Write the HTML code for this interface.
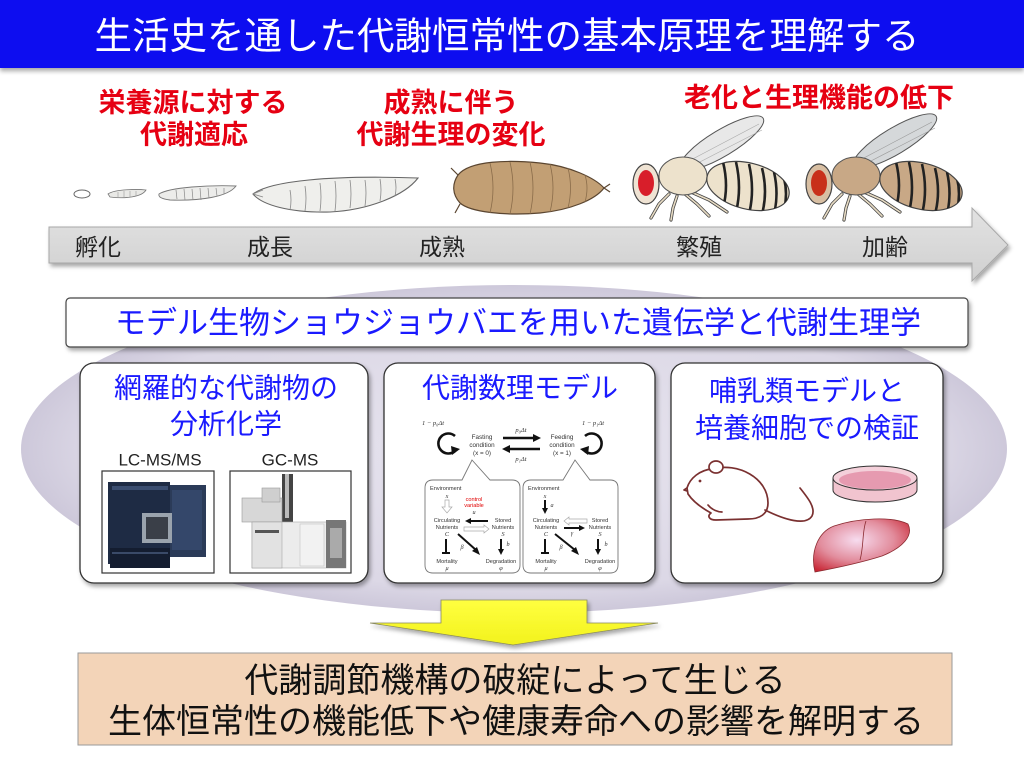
<!DOCTYPE html>
<html>
<head>
<meta charset="utf-8">
<style>
html,body{margin:0;padding:0;background:#fff;}
svg{display:block;}
.jp{font-family:"Liberation Sans","Noto Sans CJK JP",sans-serif;}
.sm{font-family:"Liberation Sans","Noto Sans CJK JP",sans-serif;fill:#333;}
.it{font-family:"Liberation Serif","DejaVu Serif",serif;font-style:italic;fill:#333;}
</style>
</head>
<body>
<svg width="1024" height="768" viewBox="0 0 1024 768" xmlns="http://www.w3.org/2000/svg">
<defs>
  <filter id="sh" x="-10%" y="-10%" width="120%" height="130%">
    <feDropShadow dx="2" dy="3" stdDeviation="2" flood-color="#000" flood-opacity="0.35"/>
  </filter>
  <filter id="sh2" x="-5%" y="-20%" width="110%" height="160%">
    <feDropShadow dx="0" dy="3" stdDeviation="2.5" flood-color="#000" flood-opacity="0.35"/>
  </filter>
  <radialGradient id="ell" cx="50%" cy="50%" r="50%">
    <stop offset="0" stop-color="#e6e3ee"/>
    <stop offset="0.85" stop-color="#dcd8e6"/>
    <stop offset="1" stop-color="#cdc8da"/>
  </radialGradient>
  <linearGradient id="band" x1="0" y1="0" x2="0" y2="1">
    <stop offset="0" stop-color="#e2e2e2"/>
    <stop offset="1" stop-color="#d0d0d0"/>
  </linearGradient>
  <linearGradient id="yel" x1="0" y1="0" x2="0" y2="1">
    <stop offset="0" stop-color="#ffff40"/>
    <stop offset="1" stop-color="#f2f21c"/>
  </linearGradient>
  <radialGradient id="liver" cx="45%" cy="40%" r="70%">
    <stop offset="0" stop-color="#f7dcef"/>
    <stop offset="0.55" stop-color="#e28d9d"/>
    <stop offset="1" stop-color="#c82634"/>
  </radialGradient>
  <clipPath id="abd1"><ellipse cx="101" cy="4" rx="42" ry="23" transform="rotate(14 101 4)"/></clipPath>
  <g id="fly">
    <g stroke="#444" stroke-width="3.2" fill="none" stroke-linecap="round" stroke-linejoin="round">
      <polyline points="22,12 12,22 4,36"/>
      <polyline points="30,14 26,26 24,38"/>
      <polyline points="38,12 50,22 62,34"/>
      <polyline points="44,10 62,18 80,30"/>
    </g>
    <g stroke="#e8dcc4" stroke-width="1.6" fill="none" stroke-linecap="round" stroke-linejoin="round">
      <polyline points="22,12 12,22 4,36"/>
      <polyline points="30,14 26,26 24,38"/>
      <polyline points="38,12 50,22 62,34"/>
      <polyline points="44,10 62,18 80,30"/>
    </g>
  </g>
</defs>

<!-- header -->
<rect x="0" y="0" width="1024" height="68" fill="#0a0af0" filter="url(#sh2)"/>
<text x="507" y="36" class="jp" font-size="37.5" fill="#fff" text-anchor="middle" dominant-baseline="central">生活史を通した代謝恒常性の基本原理を理解する</text>

<!-- red labels -->
<g class="jp" font-size="27" font-weight="bold" fill="#e60012" text-anchor="middle" dominant-baseline="central">
  <text x="193" y="103">栄養源に対する</text>
  <text x="194" y="135">代謝適応</text>
  <text x="451" y="103">成熟に伴う</text>
  <text x="451" y="135">代謝生理の変化</text>
  <text x="819" y="98">老化と生理機能の低下</text>
</g>

<!-- larvae -->
<ellipse cx="82" cy="194" rx="8" ry="4" fill="#fff" stroke="#666" stroke-width="1"/>
<path d="M108,194 C115,189 138,189 146,190 C142,197 125,199 110,197 Z" fill="#e9e9e6" stroke="#777" stroke-width="0.8"/>
<g stroke="#999" stroke-width="0.6"><line x1="118" y1="192" x2="118" y2="197"/><line x1="124" y1="191" x2="124" y2="198"/><line x1="130" y1="191" x2="130" y2="197"/><line x1="136" y1="191" x2="136" y2="196"/></g>
<path d="M159,194 C170,187 210,185 236,186 C228,197 200,201 170,200 C162,199 158,197 159,194 Z" fill="#ececea" stroke="#777" stroke-width="0.9"/>
<g stroke="#888" stroke-width="0.7"><line x1="176" y1="190" x2="177" y2="199"/><line x1="184" y1="189" x2="185" y2="200"/><line x1="192" y1="189" x2="193" y2="200"/><line x1="200" y1="188" x2="201" y2="200"/><line x1="208" y1="188" x2="209" y2="198"/><line x1="216" y1="188" x2="217" y2="196"/><line x1="224" y1="188" x2="224" y2="194"/></g>
<path d="M253,194 C270,181 330,175 418,178 C405,195 370,210 330,212 C290,213 262,205 253,194 Z" fill="#efefec" stroke="#666" stroke-width="1.1"/>
<g stroke="#888" stroke-width="0.8" fill="none"><path d="M290,190 q2,10 0,20"/><path d="M305,186 q2,12 0,25"/><path d="M320,183 q2,14 0,28"/><path d="M335,181 q2,15 0,30"/><path d="M350,180 q2,14 0,28"/><path d="M365,180 q2,13 0,26"/><path d="M380,179 q2,11 0,22"/><path d="M395,179 q2,9 0,17"/><path d="M253,194 l10,-4 M253,194 l10,3"/></g>

<!-- pupa -->
<path d="M458,175 C470,160 510,160 540,163 C570,166 595,178 604,188 C595,200 570,210 540,213 C505,216 470,212 460,203 C452,194 452,184 458,175 Z" fill="#c29f74" stroke="#5a4530" stroke-width="1.2"/>
<g stroke="#8a6c4a" stroke-width="0.8" fill="none"><path d="M490,163 q6,25 0,50"/><path d="M510,162 q6,26 0,52"/><path d="M530,162 q6,26 0,52"/><path d="M550,164 q6,24 0,48"/><path d="M568,168 q5,20 0,40"/><path d="M585,175 q4,13 0,27"/></g>
<g stroke="#5a4530" stroke-width="1.2"><line x1="458" y1="175" x2="451" y2="168"/><line x1="460" y1="204" x2="455" y2="213"/><line x1="604" y1="188" x2="610" y2="184"/><line x1="604" y1="188" x2="610" y2="192"/></g>

<!-- fly 1 -->
<g transform="translate(647,182)">
  <ellipse cx="75" cy="-39" rx="48" ry="13" transform="rotate(-31 75 -39)" fill="#e8e8e8" stroke="#555" stroke-width="1"/>
  <path d="M40,-20 L112,-58 M45,-16 L115,-52" stroke="#aaa" stroke-width="0.6"/>
  <use href="#fly"/>
  <ellipse cx="36" cy="-6" rx="24" ry="19" fill="#ede2cc" stroke="#555" stroke-width="1"/>
  <ellipse cx="101" cy="4" rx="42" ry="23" transform="rotate(14 101 4)" fill="#ede2cc" stroke="#444" stroke-width="1.2"/>
  <g clip-path="url(#abd1)" stroke="#222" stroke-width="2.6" fill="none">
    <path d="M76,-20 q6,24 0,46"/><path d="M89,-20 q6,26 0,50"/><path d="M102,-18 q6,26 0,50"/><path d="M115,-14 q6,24 0,46"/><path d="M127,-10 q5,22 0,42"/><path d="M137,-4 q4,16 0,32"/>
  </g>
  <ellipse cx="-1" cy="2" rx="13" ry="20" fill="#efe3d3" stroke="#444" stroke-width="1.2"/>
  <ellipse cx="-1" cy="1" rx="8" ry="13" fill="#d81e2a"/>
</g>
<!-- fly 2 -->
<g transform="translate(820,182)">
  <ellipse cx="75" cy="-41" rx="48" ry="13" transform="rotate(-31 75 -41)" fill="#d5d8da" stroke="#555" stroke-width="1"/>
  <path d="M40,-22 L112,-60 M45,-18 L115,-54" stroke="#999" stroke-width="0.6"/>
  <use href="#fly"/>
  <ellipse cx="36" cy="-6" rx="24" ry="19" fill="#c8a886" stroke="#555" stroke-width="1"/>
  <ellipse cx="101" cy="4" rx="42" ry="23" transform="rotate(14 101 4)" fill="#c8a886" stroke="#444" stroke-width="1.2"/>
  <g clip-path="url(#abd1)" stroke="#222" stroke-width="2.6" fill="none">
    <path d="M76,-20 q6,24 0,46"/><path d="M89,-20 q6,26 0,50"/><path d="M102,-18 q6,26 0,50"/><path d="M115,-14 q6,24 0,46"/><path d="M127,-10 q5,22 0,42"/><path d="M137,-4 q4,16 0,32"/>
  </g>
  <ellipse cx="-1" cy="2" rx="13" ry="20" fill="#d8bfa3" stroke="#444" stroke-width="1.2"/>
  <ellipse cx="-1" cy="1" rx="8" ry="13" fill="#c8301a"/>
</g>

<!-- timeline arrow -->
<polygon points="49,227 972,227 972,208 1008,245 972,281 972,263 49,263" fill="url(#band)" stroke="#a8a8a8" stroke-width="1" filter="url(#sh)"/>
<g class="jp" font-size="23" fill="#222" text-anchor="middle" dominant-baseline="central">
  <text x="98" y="247">孵化</text>
  <text x="270" y="247">成長</text>
  <text x="442" y="247">成熟</text>
  <text x="699" y="247">繁殖</text>
  <text x="885" y="247">加齢</text>
</g>

<!-- lavender ellipse -->
<ellipse cx="514" cy="449" rx="493" ry="164" fill="url(#ell)"/>

<!-- banner -->
<rect x="66" y="298" width="902" height="49" rx="4" fill="#fff" stroke="#444" stroke-width="1.2" filter="url(#sh)"/>
<text x="518" y="323" class="jp" font-size="31" fill="#1a1aff" text-anchor="middle" dominant-baseline="central">モデル生物ショウジョウバエを用いた遺伝学と代謝生理学</text>

<!-- panels -->
<rect x="80" y="363" width="288" height="220" rx="14" fill="#fff" stroke="#333" stroke-width="1.3" filter="url(#sh)"/>
<rect x="384" y="363" width="271" height="220" rx="14" fill="#fff" stroke="#333" stroke-width="1.3" filter="url(#sh)"/>
<rect x="671" y="363" width="272" height="220" rx="14" fill="#fff" stroke="#333" stroke-width="1.3" filter="url(#sh)"/>

<g class="jp" font-size="28" fill="#1a1aff" text-anchor="middle" dominant-baseline="central">
  <text x="226" y="388">網羅的な代謝物の</text>
  <text x="226" y="424">分析化学</text>
  <text x="520" y="388">代謝数理モデル</text>
  <text x="807" y="391">哺乳類モデルと</text>
  <text x="807" y="428">培養細胞での検証</text>
</g>

<!-- panel 1 content -->
<g font-family="Liberation Sans, sans-serif" font-size="17" fill="#222" text-anchor="middle" dominant-baseline="central">
  <text x="160" y="460">LC-MS/MS</text>
  <text x="290" y="460">GC-MS</text>
</g>
<rect x="102" y="471" width="112" height="102" fill="#fff" stroke="#333" stroke-width="1.2"/>
<rect x="230" y="471" width="121" height="102" fill="#fff" stroke="#333" stroke-width="1.2"/>
<!-- LC-MS -->
<rect x="108" y="482" width="62" height="82" fill="#1e2b44"/>
<rect x="112" y="486" width="56" height="4" fill="#3a4d70"/>
<rect x="170" y="485" width="36" height="72" fill="#2b3b58"/>
<rect x="172" y="490" width="30" height="60" fill="#34476a"/>
<rect x="142" y="513" width="30" height="30" fill="#9aa3ad"/>
<rect x="146" y="517" width="22" height="22" fill="#3a3f48"/>
<rect x="110" y="548" width="60" height="20" fill="#141d30"/>
<rect x="112" y="552" width="56" height="2" fill="#3a4a68"/>
<!-- GC-MS -->
<rect x="282" y="474" width="11" height="48" fill="#444"/>
<rect x="285" y="474" width="4" height="44" fill="#bbb"/>
<rect x="242" y="498" width="40" height="24" fill="#d7d7d7" stroke="#999" stroke-width="0.6"/>
<rect x="262" y="488" width="18" height="14" fill="#cfcfcf" stroke="#999" stroke-width="0.6"/>
<rect x="252" y="522" width="94" height="46" fill="#ececec" stroke="#aaa" stroke-width="0.6"/>
<rect x="252" y="522" width="30" height="46" fill="#e2e2e2" stroke="#999" stroke-width="0.5"/>
<rect x="255" y="530" width="24" height="3" fill="#555"/>
<rect x="326" y="520" width="20" height="48" fill="#777"/>
<rect x="330" y="528" width="12" height="30" fill="#aaa"/>
<rect x="300" y="524" width="24" height="42" fill="#f2f2f2" stroke="#bbb" stroke-width="0.5"/>

<!-- panel 2 model -->
<g font-size="6.5">
  <text x="433" y="425" class="it" text-anchor="middle">1 − p₀Δt</text>
  <text x="593" y="425" class="it" text-anchor="middle">1 − p₁Δt</text>
  <text x="521" y="432" class="it" text-anchor="middle">p₀Δt</text>
  <text x="521" y="461" class="it" text-anchor="middle">p₁Δt</text>
</g>
<g font-size="6.3" class="sm" text-anchor="middle">
  <text x="482" y="439">Fasting</text>
  <text x="482" y="447">condition</text>
  <text x="482" y="455">(x = 0)</text>
  <text x="562" y="439">Feeding</text>
  <text x="562" y="447">condition</text>
  <text x="562" y="455">(x = 1)</text>
</g>
<path d="M455,436 A10,10 0 1,0 455,451" fill="none" stroke="#111" stroke-width="2.6"/>
<polygon points="451,446 460,449 452,455" fill="#111"/>
<path d="M585,436 A10,10 0 1,1 585,451" fill="none" stroke="#111" stroke-width="2.6"/>
<polygon points="589,446 580,449 588,455" fill="#111"/>
<line x1="503" y1="438" x2="534" y2="438" stroke="#111" stroke-width="2.6"/>
<polygon points="533,434 541,438 533,442" fill="#111"/>
<line x1="509" y1="449" x2="540" y2="449" stroke="#111" stroke-width="2.6"/>
<polygon points="510,445 502,449 510,453" fill="#111"/>

<!-- bubbles -->
<path d="M433,480 L462,480 L472,460 L490,480 L512,480 Q520,480 520,488 L520,565 Q520,573 512,573 L433,573 Q425,573 425,565 L425,488 Q425,480 433,480 Z" fill="#fff" stroke="#777" stroke-width="0.9"/>
<path d="M531,480 L563,480 L575,460 L590,480 L610,480 Q618,480 618,488 L618,565 Q618,573 610,573 L531,573 Q523,573 523,565 L523,488 Q523,480 531,480 Z" fill="#fff" stroke="#777" stroke-width="0.9"/>

<g class="sm" font-size="5.6">
  <text x="430" y="490">Environment</text>
  <text x="528" y="490">Environment</text>
  <text x="447" y="522" text-anchor="middle">Circulating</text>
  <text x="447" y="529" text-anchor="middle">Nutrients</text>
  <text x="503" y="522" text-anchor="middle">Stored</text>
  <text x="503" y="529" text-anchor="middle">Nutrients</text>
  <text x="546" y="522" text-anchor="middle">Circulating</text>
  <text x="546" y="529" text-anchor="middle">Nutrients</text>
  <text x="600" y="522" text-anchor="middle">Stored</text>
  <text x="600" y="529" text-anchor="middle">Nutrients</text>
  <text x="447" y="563" text-anchor="middle">Mortality</text>
  <text x="501" y="563" text-anchor="middle">Degradation</text>
  <text x="546" y="563" text-anchor="middle">Mortality</text>
  <text x="600" y="563" text-anchor="middle">Degradation</text>
</g>
<g class="sm" font-size="5.6" text-anchor="middle">
  <text x="474" y="501" style="fill:#e00000">control</text>
  <text x="474" y="507" style="fill:#e00000">variable</text>
</g>
<g class="it" font-size="6.2" text-anchor="middle">
  <text x="447" y="498">x</text>
  <text x="474" y="514">u</text>
  <text x="447" y="536">C</text>
  <text x="503" y="536">S</text>
  <text x="447" y="570">μ</text>
  <text x="501" y="570">φ</text>
  <text x="462" y="549">β</text>
  <text x="508" y="546">b</text>
  <text x="545" y="498">x</text>
  <text x="552" y="507">a</text>
  <text x="546" y="536">C</text>
  <text x="600" y="536">S</text>
  <text x="572" y="535">γ</text>
  <text x="546" y="570">μ</text>
  <text x="600" y="570">φ</text>
  <text x="561" y="549">β</text>
  <text x="606" y="546">b</text>
</g>
<!-- left bubble arrows -->
<path d="M445,500 h4 v7 h3 l-5,6 l-5,-6 h3 z" fill="#fff" stroke="#aaa" stroke-width="0.7"/>
<line x1="488" y1="521" x2="470" y2="521" stroke="#111" stroke-width="2"/>
<polygon points="471,518 465,521 471,524" fill="#111"/>
<path d="M464,527 h20 v-2 l5,4 l-5,4 v-2 h-20 z" fill="#fff" stroke="#aaa" stroke-width="0.7"/>
<line x1="446" y1="539" x2="446" y2="553" stroke="#111" stroke-width="2"/>
<line x1="442" y1="553" x2="450" y2="553" stroke="#111" stroke-width="2"/>
<line x1="458" y1="534" x2="476" y2="550" stroke="#111" stroke-width="2"/>
<polygon points="472,551 480,555 477,547" fill="#111"/>
<line x1="501" y1="539" x2="501" y2="550" stroke="#111" stroke-width="2"/>
<polygon points="498,549 501,555 504,549" fill="#111"/>
<!-- right bubble arrows -->
<line x1="545" y1="500" x2="545" y2="509" stroke="#111" stroke-width="2"/>
<polygon points="542,508 545,514 548,508" fill="#111"/>
<path d="M587,519 h-18 v-2 l-5,4 l5,4 v-2 h18 z" fill="#fff" stroke="#aaa" stroke-width="0.7"/>
<line x1="564" y1="528" x2="580" y2="528" stroke="#111" stroke-width="2"/>
<polygon points="579,525 585,528 579,531" fill="#111"/>
<line x1="545" y1="539" x2="545" y2="553" stroke="#111" stroke-width="2"/>
<line x1="541" y1="553" x2="549" y2="553" stroke="#111" stroke-width="2"/>
<line x1="555" y1="534" x2="575" y2="550" stroke="#111" stroke-width="2"/>
<polygon points="571,551 579,555 576,547" fill="#111"/>
<line x1="598" y1="539" x2="598" y2="550" stroke="#111" stroke-width="2"/>
<polygon points="595,549 598,555 601,549" fill="#111"/>

<!-- panel 3 content: mouse -->
<g fill="none" stroke="#7a3030" stroke-width="1.7" stroke-linecap="round" stroke-linejoin="round">
  <path d="M687,488 C690,478 700,470 712,469 C738,462 768,478 768,503 C768,514 760,519 748,519 L716,520 C709,520 707,516 711,513 C700,507 692,500 688,494 Z" fill="#fff"/>
  <ellipse cx="716" cy="467" rx="7" ry="6" fill="#fff"/>
  <path d="M765,510 C785,520 806,526 812,516 C816,508 808,498 800,488"/>
  <path d="M708,505 C712,510 718,512 722,512"/>
  <path d="M687,488 l-3,2 l3,1"/>
</g>
<circle cx="700" cy="481" r="1.4" fill="#7a3030"/>
<!-- petri dish -->
<path d="M833,478 L833,490 A42,12 0 0,0 917,490 L917,478" fill="#f1c4cf" stroke="#333" stroke-width="1"/>
<ellipse cx="875" cy="478" rx="42" ry="12" fill="#f4d0da" stroke="#333" stroke-width="1"/>
<ellipse cx="875" cy="480" rx="36" ry="9" fill="#e69ab0"/>
<!-- liver -->
<path d="M815,572 C810,552 818,532 834,526 C858,518 892,516 908,524 C914,536 902,548 882,556 C860,563 836,568 815,572 Z" fill="url(#liver)" stroke="#8a2a30" stroke-width="0.8"/>
<path d="M866,521 C862,532 864,546 860,560" fill="none" stroke="#8a2a30" stroke-width="0.8"/>

<!-- yellow arrow -->
<polygon points="441,600 587,600 587,623 658,623 513,645 370,623 441,623" fill="url(#yel)" stroke="#8a8a60" stroke-width="0.8" filter="url(#sh)"/>

<!-- bottom box -->
<rect x="78" y="653" width="874" height="92" fill="#f3d4b8" stroke="#9a9a9a" stroke-width="1"/>
<g class="jp" font-size="34" fill="#111" text-anchor="middle" dominant-baseline="central">
  <text x="515" y="681">代謝調節機構の破綻によって生じる</text>
  <text x="516" y="722">生体恒常性の機能低下や健康寿命への影響を解明する</text>
</g>
</svg>
</body>
</html>
